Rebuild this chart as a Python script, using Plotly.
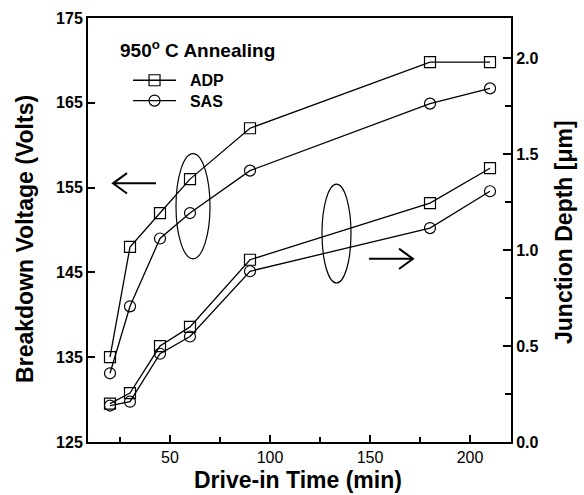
import plotly.graph_objects as go

time_min = [20, 30, 45, 60, 90, 180, 210]
bv_adp = [135.0, 148.0, 152.0, 156.0, 162.0, 169.8, 169.8]
bv_sas = [133.1, 141.0, 149.0, 152.0, 157.0, 164.9, 166.7]
jd_adp = [0.20, 0.255, 0.50, 0.60, 0.95, 1.245, 1.427]
jd_sas = [0.19, 0.21, 0.46, 0.55, 0.89, 1.115, 1.307]

FONT = "Liberation Sans"
line = dict(color="black", width=1.3)
sq = dict(symbol="square-open", size=11, color="black", line=dict(width=1.2))
ci = dict(symbol="circle-open", size=11, color="black", line=dict(width=1.2))

fig = go.Figure()
fig.add_trace(go.Scatter(x=time_min, y=bv_adp, mode="lines+markers", line=line, marker=sq,
                         name="&nbsp;&nbsp;<b>ADP</b>", legend="legend", showlegend=True))
fig.add_trace(go.Scatter(x=time_min, y=bv_sas, mode="lines+markers", line=line, marker=ci,
                         name="&nbsp;&nbsp;<b>SAS</b>", legend="legend2", showlegend=True))
fig.add_trace(go.Scatter(x=time_min, y=jd_adp, mode="lines+markers", line=line, marker=sq,
                         name="ADP", showlegend=False, yaxis="y2"))
fig.add_trace(go.Scatter(x=time_min, y=jd_sas, mode="lines+markers", line=line, marker=ci,
                         name="SAS", showlegend=False, yaxis="y2"))

tickfont = dict(family=FONT, size=16, color="black")
titlefont = dict(family=FONT, size=23, color="black")
legfont = dict(family=FONT, size=16, color="black")

fig.update_layout(
    width=584, height=495,
    margin=dict(l=88, r=73, t=18, b=53, autoexpand=False),
    paper_bgcolor="white", plot_bgcolor="white",
    font=dict(family=FONT, color="black"),
    xaxis=dict(range=[9, 220.5], tickvals=[50, 100, 150, 200], ticks="inside", ticklen=7,
               tickwidth=1.5, tickcolor="black", showgrid=False, zeroline=False,
               showline=True, linecolor="black", linewidth=2, mirror=True,
               tickfont=tickfont, tickprefix="<b>", ticksuffix="</b>", automargin=False,
               minor=dict(tickvals=[25, 75, 125, 175], ticks="inside", ticklen=5,
                          tickwidth=1.5, tickcolor="black")),
    yaxis=dict(range=[125, 175], tick0=125, dtick=10, ticks="inside", ticklen=7, tickwidth=1.5,
               tickcolor="black", showgrid=False, zeroline=False, showline=True,
               linecolor="black", linewidth=2, tickfont=tickfont, automargin=False,
               tickprefix="<b>", ticksuffix="</b>"),
    yaxis2=dict(range=[0, 2.21], tick0=0, dtick=0.5, tickformat=".1f", overlaying="y", side="right",
                ticks="inside", ticklen=8, tickwidth=1.5, tickcolor="black",
                showgrid=False, zeroline=False, showline=True, linecolor="black",
                linewidth=2, tickfont=tickfont, automargin=False,
                tickprefix="<b>", ticksuffix="</b>",
                minor=dict(dtick=0.25, ticks="inside", ticklen=6, tickwidth=1.5,
                           tickcolor="black")),
    legend=dict(x=0.0946, y=0.853, xanchor="left", yanchor="middle", bgcolor="rgba(0,0,0,0)",
                font=legfont, itemwidth=43),
    legend2=dict(x=0.0946, y=0.805, xanchor="left", yanchor="middle", bgcolor="rgba(0,0,0,0)",
                 font=legfont, itemwidth=43),
    showlegend=True,
)

# axis titles
fig.add_annotation(x=-0.149, y=0.479, xref="paper", yref="paper", textangle=-90,
                   xanchor="center", yanchor="middle",
                   showarrow=False, text="<b>Breakdown Voltage (Volts)</b>", font=titlefont)
fig.add_annotation(x=1.125, y=0.495, xref="paper", yref="paper", textangle=-90,
                   xanchor="center", yanchor="middle",
                   showarrow=False, text="<b>Junction Depth [μm]</b>", font=titlefont)
fig.add_annotation(x=0.496, y=-0.0896, xref="paper", yref="paper",
                   xanchor="center", yanchor="middle",
                   showarrow=False, text="<b>Drive-in Time (min)</b>", font=titlefont)

fig.add_annotation(x=0.071, y=0.928, xref="paper", yref="paper", xanchor="left",
                   yanchor="middle", showarrow=False,
                   text="<b>950<sup>o</sup> C Annealing</b>",
                   font=dict(family=FONT, size=19, color="black"))

# ellipses
fig.add_shape(type="circle", xref="x", yref="y", x0=53, x1=70, y0=146.6, y1=159.0,
              line=dict(color="black", width=1.2))
fig.add_shape(type="circle", xref="x", yref="y", x0=126, x1=140.5, y0=143.75, y1=155.4,
              line=dict(color="black", width=1.2))

# arrows (open chevron heads)
fig.add_shape(type="path", xref="x", yref="y",
              path="M 43 155.5 L 21.5 155.5 M 28.5 156.7 L 21.5 155.5 L 28.5 154.3",
              line=dict(color="black", width=2))
fig.add_shape(type="path", xref="x", yref="y",
              path="M 149.5 146.6 L 171.5 146.6 M 164.5 147.8 L 171.5 146.6 L 164.5 145.4",
              line=dict(color="black", width=2))

fig.write_html("out.html", config={"displayModeBar": False},
               post_script="document.body.style.margin='0';")
